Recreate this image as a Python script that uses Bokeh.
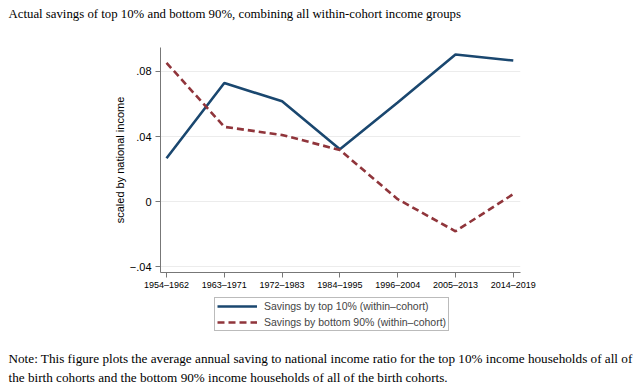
from bokeh.plotting import figure
from bokeh.models import Range1d, FixedTicker, Legend, LegendItem, ColumnDataSource, Title
from bokeh.layouts import column
from bokeh.embed import file_html
from bokeh.resources import INLINE

cohorts = ["1954–1962", "1963–1971", "1972–1983", "1984–1995", "1996–2004", "2005–2013", "2014–2019"]
top10 = [0.0267, 0.0729, 0.0617, 0.0322, 0.0610, 0.0904, 0.0867]
bottom90 = [0.0853, 0.0460, 0.0410, 0.0318, 0.0016, -0.0181, 0.0047]
yticks = [-0.04, 0, 0.04, 0.08]
ytick_labels = ["−.04", "0", ".04", ".08"]
series_labels = ["Savings by top 10% (within–cohort)", "Savings by bottom 90% (within–cohort)"]
title_text = "Actual savings of top 10% and bottom 90%, combining all within-cohort income groups"
note_line1 = "Note: This figure plots the average annual saving to national income ratio for the top 10% income households of all of"
note_line2 = "the birth cohorts and the bottom 90% income households of all of the birth cohorts."

TOP_COLOR, BOT_COLOR = "#1a476f", "#90353b"
LEFT = 160

xs = list(range(len(cohorts)))
src = ColumnDataSource(dict(x=xs, top=top10, bot=bottom90))

# ---- main chart ----
p = figure(output_backend="svg", toolbar_location=None,
           width=640, height=292,
           min_border_left=LEFT, min_border_right=120, min_border_top=47, min_border_bottom=19,
           x_range=Range1d(-0.104, 6.125), y_range=Range1d(-0.0434, 0.0947))
p.outline_line_color = None
p.background_fill_color = "white"
p.border_fill_color = "white"

p.line("x", "top", source=src, line_color=TOP_COLOR, line_width=2.6)
p.line("x", "bot", source=src, line_color=BOT_COLOR, line_width=2.6, line_dash="7 4")

p.xgrid.grid_line_color = None
p.ygrid.grid_line_color = "#ececec"
p.ygrid.ticker = FixedTicker(ticks=yticks)

p.xaxis.ticker = FixedTicker(ticks=xs)
p.xaxis.major_label_overrides = {i: c for i, c in zip(xs, cohorts)}
p.yaxis.ticker = FixedTicker(ticks=yticks)
p.yaxis.major_label_overrides = {t: l for t, l in zip(yticks, ytick_labels)}

for ax in (p.xaxis[0], p.yaxis[0]):
    ax.axis_line_color = "#777777"
    ax.major_tick_line_color = "#777777"
    ax.minor_tick_line_color = None
    ax.major_tick_out = 5
    ax.major_tick_in = 0
    ax.major_label_text_font = "Liberation Sans"
    ax.major_label_text_color = "black"
    ax.axis_label_text_font = "Liberation Sans"
    ax.axis_label_text_font_style = "normal"
    ax.axis_label_text_color = "black"

p.xaxis.major_label_text_font_size = "9px"
p.xaxis.major_label_standoff = 2
p.yaxis.major_label_text_font_size = "11px"
p.yaxis.major_label_standoff = 4
p.yaxis.major_label_orientation = "horizontal"
p.yaxis.axis_label = "scaled by national income"
p.yaxis.axis_label_text_font_size = "11px"
p.yaxis.axis_label_standoff = 1

p.title = None
p.add_layout(Title(text=" ", text_font_size="10px", standoff=12), "above")
p.add_layout(Title(text=title_text, align="left", offset=-(LEFT - 8), standoff=4,
                   text_font="Liberation Serif", text_font_size="12.8px",
                   text_font_style="normal", text_color="black"), "above")

# ---- legend + note strip (series kept out of view; only their legend keys show) ----
q = figure(output_backend="svg", toolbar_location=None,
           width=640, height=98,
           min_border_left=LEFT, min_border_right=120, min_border_top=0, min_border_bottom=43,
           x_range=Range1d(-0.104, 6.125), y_range=Range1d(1, 2),
           x_axis_location=None, y_axis_location=None)
q.outline_line_color = None
q.grid.grid_line_color = None
q.background_fill_color = "white"
q.border_fill_color = "white"
s1 = q.line("x", "top", source=src, line_color=TOP_COLOR, line_width=2.6)
s2 = q.line("x", "bot", source=src, line_color=BOT_COLOR, line_width=2.6, line_dash="7 4")

legend = Legend(items=[LegendItem(label=series_labels[0], renderers=[s1]),
                       LegendItem(label=series_labels[1], renderers=[s2])],
                location=(54, 16), orientation="vertical")
legend.border_line_color = "#777777"
legend.label_text_font = "Liberation Sans"
legend.label_text_font_size = "10.5px"
legend.glyph_width = 40
legend.glyph_height = 12
legend.label_height = 12
legend.spacing = 4
legend.padding = 2
legend.margin = 0
legend.label_standoff = 7
q.add_layout(legend, "center")

for txt in (note_line1, note_line2):
    q.add_layout(Title(text=txt, align="left", offset=-(LEFT - 8), standoff=2,
                       text_font="Liberation Serif", text_font_size="13.2px",
                       text_font_style="normal", text_color="black"), "below")

layout = column(p, q, spacing=0)
open("out.html", "w").write(file_html(layout, INLINE))
